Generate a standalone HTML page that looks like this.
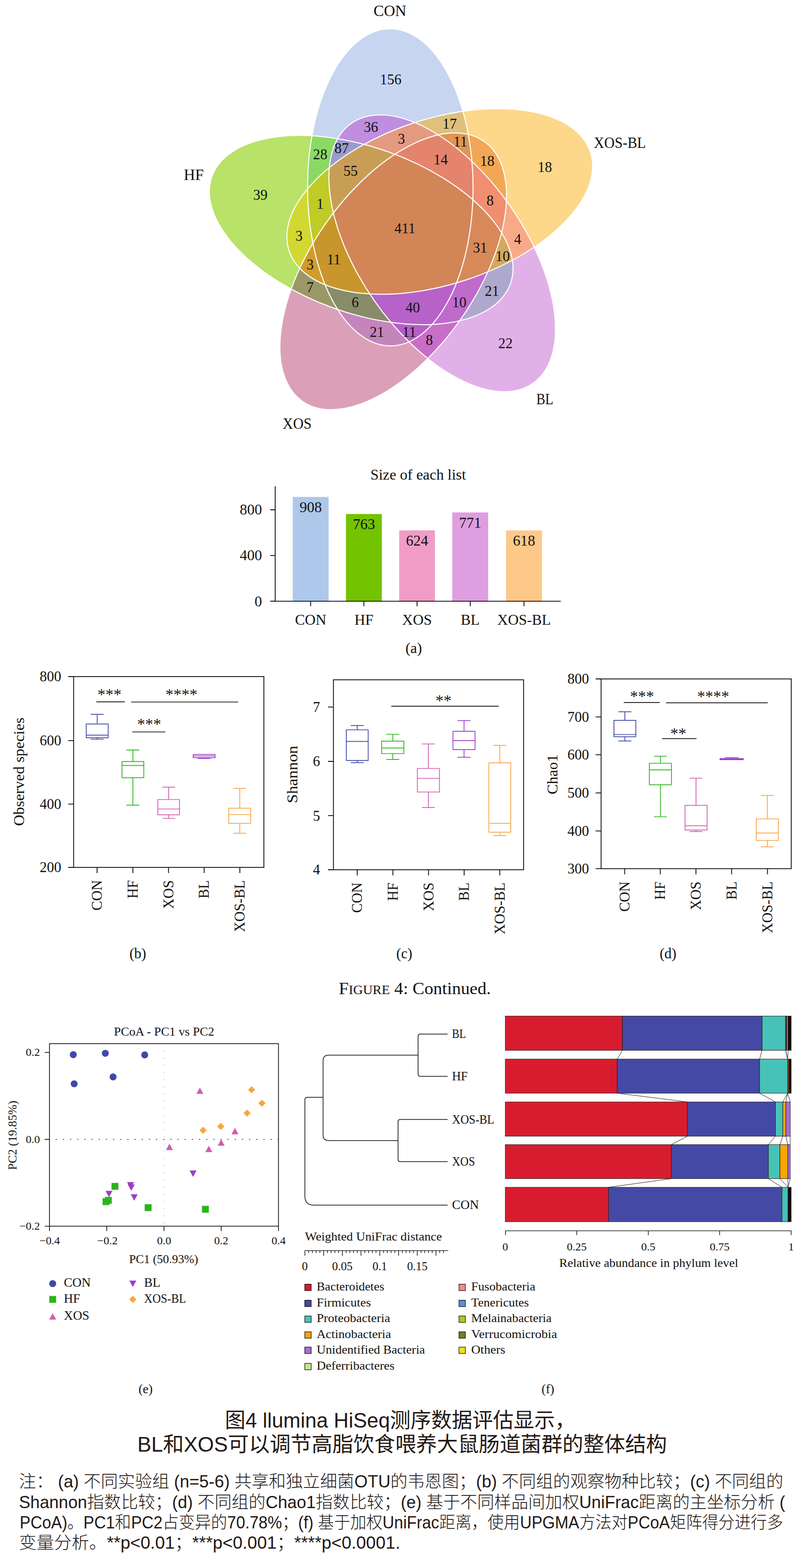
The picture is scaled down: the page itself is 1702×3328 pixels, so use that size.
<!DOCTYPE html>
<html><head><meta charset="utf-8"><title>Figure 4</title>
<style>html,body{margin:0;padding:0;background:#fff}svg{display:block}text{white-space:pre}</style></head>
<body><svg width="1702" height="3328" viewBox="0 0 1702 3328">
<rect width="1702" height="3328" fill="#fff"/>
<defs>
<clipPath id="cC"><ellipse cx="828.3" cy="397.6" rx="175.7" ry="336.5" transform="rotate(-0.10 828.3 397.6)" /></clipPath>
<clipPath id="cH"><ellipse cx="766.5" cy="488.3" rx="175.7" ry="336.5" transform="rotate(289.80 766.5 488.3)" /></clipPath>
<clipPath id="cX"><ellipse cx="834.5" cy="575.8" rx="175.7" ry="336.5" transform="rotate(214.90 834.5 575.8)" /></clipPath>
<clipPath id="cB"><ellipse cx="938.4" cy="537.6" rx="175.7" ry="336.5" transform="rotate(145.10 938.4 537.6)" /></clipPath>
<clipPath id="cO"><ellipse cx="933.2" cy="427.6" rx="175.7" ry="336.5" transform="rotate(71.90 933.2 427.6)" /></clipPath>
</defs>
<g shape-rendering="geometricPrecision">
<ellipse cx="828.3" cy="397.6" rx="175.7" ry="336.5" transform="rotate(-0.10 828.3 397.6)" fill="#c7d5f0"/>
<ellipse cx="766.5" cy="488.3" rx="175.7" ry="336.5" transform="rotate(289.80 766.5 488.3)" fill="#b8e268"/>
<ellipse cx="834.5" cy="575.8" rx="175.7" ry="336.5" transform="rotate(214.90 834.5 575.8)" fill="#dba0b8"/>
<ellipse cx="938.4" cy="537.6" rx="175.7" ry="336.5" transform="rotate(145.10 938.4 537.6)" fill="#e2b0e8"/>
<ellipse cx="933.2" cy="427.6" rx="175.7" ry="336.5" transform="rotate(71.90 933.2 427.6)" fill="#fdd78a"/>
<g clip-path="url(#cH)"><ellipse cx="828.3" cy="397.6" rx="175.7" ry="336.5" transform="rotate(-0.10 828.3 397.6)" fill="#8bd964"/></g>
<g clip-path="url(#cX)"><ellipse cx="828.3" cy="397.6" rx="175.7" ry="336.5" transform="rotate(-0.10 828.3 397.6)" fill="#c385bc"/></g>
<g clip-path="url(#cB)"><ellipse cx="828.3" cy="397.6" rx="175.7" ry="336.5" transform="rotate(-0.10 828.3 397.6)" fill="#bf8ede"/></g>
<g clip-path="url(#cO)"><ellipse cx="828.3" cy="397.6" rx="175.7" ry="336.5" transform="rotate(-0.10 828.3 397.6)" fill="#dfc07c"/></g>
<g clip-path="url(#cX)"><ellipse cx="766.5" cy="488.3" rx="175.7" ry="336.5" transform="rotate(289.80 766.5 488.3)" fill="#9b9868"/></g>
<g clip-path="url(#cB)"><ellipse cx="766.5" cy="488.3" rx="175.7" ry="336.5" transform="rotate(289.80 766.5 488.3)" fill="#aea8cc"/></g>
<g clip-path="url(#cO)"><ellipse cx="766.5" cy="488.3" rx="175.7" ry="336.5" transform="rotate(289.80 766.5 488.3)" fill="#d2d832"/></g>
<g clip-path="url(#cB)"><ellipse cx="834.5" cy="575.8" rx="175.7" ry="336.5" transform="rotate(214.90 834.5 575.8)" fill="#c86ec8"/></g>
<g clip-path="url(#cO)"><ellipse cx="834.5" cy="575.8" rx="175.7" ry="336.5" transform="rotate(214.90 834.5 575.8)" fill="#f2a757"/></g>
<g clip-path="url(#cO)"><ellipse cx="938.4" cy="537.6" rx="175.7" ry="336.5" transform="rotate(145.10 938.4 537.6)" fill="#f8aa88"/></g>
<g clip-path="url(#cX)"><g clip-path="url(#cH)"><ellipse cx="828.3" cy="397.6" rx="175.7" ry="336.5" transform="rotate(-0.10 828.3 397.6)" fill="#888c68"/></g></g>
<g clip-path="url(#cB)"><g clip-path="url(#cH)"><ellipse cx="828.3" cy="397.6" rx="175.7" ry="336.5" transform="rotate(-0.10 828.3 397.6)" fill="#9b9bcc"/></g></g>
<g clip-path="url(#cO)"><g clip-path="url(#cH)"><ellipse cx="828.3" cy="397.6" rx="175.7" ry="336.5" transform="rotate(-0.10 828.3 397.6)" fill="#bfcb26"/></g></g>
<g clip-path="url(#cB)"><g clip-path="url(#cX)"><ellipse cx="828.3" cy="397.6" rx="175.7" ry="336.5" transform="rotate(-0.10 828.3 397.6)" fill="#b45fc6"/></g></g>
<g clip-path="url(#cO)"><g clip-path="url(#cX)"><ellipse cx="828.3" cy="397.6" rx="175.7" ry="336.5" transform="rotate(-0.10 828.3 397.6)" fill="#de9654"/></g></g>
<g clip-path="url(#cO)"><g clip-path="url(#cB)"><ellipse cx="828.3" cy="397.6" rx="175.7" ry="336.5" transform="rotate(-0.10 828.3 397.6)" fill="#e39a80"/></g></g>
<g clip-path="url(#cB)"><g clip-path="url(#cX)"><ellipse cx="766.5" cy="488.3" rx="175.7" ry="336.5" transform="rotate(289.80 766.5 488.3)" fill="#c06acc"/></g></g>
<g clip-path="url(#cO)"><g clip-path="url(#cX)"><ellipse cx="766.5" cy="488.3" rx="175.7" ry="336.5" transform="rotate(289.80 766.5 488.3)" fill="#d19c2c"/></g></g>
<g clip-path="url(#cO)"><g clip-path="url(#cB)"><ellipse cx="766.5" cy="488.3" rx="175.7" ry="336.5" transform="rotate(289.80 766.5 488.3)" fill="#d4a85c"/></g></g>
<g clip-path="url(#cO)"><g clip-path="url(#cB)"><ellipse cx="834.5" cy="575.8" rx="175.7" ry="336.5" transform="rotate(214.90 834.5 575.8)" fill="#ef8f6f"/></g></g>
<g clip-path="url(#cB)"><g clip-path="url(#cX)"><g clip-path="url(#cH)"><ellipse cx="828.3" cy="397.6" rx="175.7" ry="336.5" transform="rotate(-0.10 828.3 397.6)" fill="#b662c8"/></g></g></g>
<g clip-path="url(#cO)"><g clip-path="url(#cX)"><g clip-path="url(#cH)"><ellipse cx="828.3" cy="397.6" rx="175.7" ry="336.5" transform="rotate(-0.10 828.3 397.6)" fill="#c8962a"/></g></g></g>
<g clip-path="url(#cO)"><g clip-path="url(#cB)"><g clip-path="url(#cH)"><ellipse cx="828.3" cy="397.6" rx="175.7" ry="336.5" transform="rotate(-0.10 828.3 397.6)" fill="#c89e57"/></g></g></g>
<g clip-path="url(#cO)"><g clip-path="url(#cB)"><g clip-path="url(#cX)"><ellipse cx="828.3" cy="397.6" rx="175.7" ry="336.5" transform="rotate(-0.10 828.3 397.6)" fill="#e5846c"/></g></g></g>
<g clip-path="url(#cO)"><g clip-path="url(#cB)"><g clip-path="url(#cX)"><ellipse cx="766.5" cy="488.3" rx="175.7" ry="336.5" transform="rotate(289.80 766.5 488.3)" fill="#d88959"/></g></g></g>
<g clip-path="url(#cO)"><g clip-path="url(#cB)"><g clip-path="url(#cX)"><g clip-path="url(#cH)"><ellipse cx="828.3" cy="397.6" rx="175.7" ry="336.5" transform="rotate(-0.10 828.3 397.6)" fill="#d28557"/></g></g></g></g>
<ellipse cx="828.3" cy="397.6" rx="175.7" ry="336.5" transform="rotate(-0.10 828.3 397.6)" fill="none" stroke="#fff" stroke-width="2.2"/>
<ellipse cx="766.5" cy="488.3" rx="175.7" ry="336.5" transform="rotate(289.80 766.5 488.3)" fill="none" stroke="#fff" stroke-width="2.2"/>
<ellipse cx="834.5" cy="575.8" rx="175.7" ry="336.5" transform="rotate(214.90 834.5 575.8)" fill="none" stroke="#fff" stroke-width="2.2"/>
<ellipse cx="938.4" cy="537.6" rx="175.7" ry="336.5" transform="rotate(145.10 938.4 537.6)" fill="none" stroke="#fff" stroke-width="2.2"/>
<ellipse cx="933.2" cy="427.6" rx="175.7" ry="336.5" transform="rotate(71.90 933.2 427.6)" fill="none" stroke="#fff" stroke-width="2.2"/>
</g>
<g style="font-family:'Liberation Serif',serif;font-size:30.5px" text-anchor="middle" fill="#111">
<text x="829.0" y="178.9">156</text>
<text x="787.2" y="279.8">36</text>
<text x="954.3" y="273.0">17</text>
<text x="851.8" y="304.9">3</text>
<text x="977.0" y="311.0">11</text>
<text x="679.4" y="338.3">28</text>
<text x="725.0" y="324.7">87</text>
<text x="744.0" y="373.3">55</text>
<text x="935.3" y="348.9">14</text>
<text x="1034.0" y="352.0">18</text>
<text x="1156.3" y="364.9">18</text>
<text x="552.6" y="424.1">39</text>
<text x="679.4" y="443.1">1</text>
<text x="1040.0" y="435.5">8</text>
<text x="859.4" y="494.7">411</text>
<text x="634.6" y="511.3">3</text>
<text x="1018.8" y="535.7">31</text>
<text x="1098.6" y="517.5">4</text>
<text x="1066.7" y="554.0">10</text>
<text x="658.2" y="572.2">3</text>
<text x="708.3" y="560.8">11</text>
<text x="658.2" y="620.0">7</text>
<text x="753.8" y="651.9">6</text>
<text x="876.0" y="662.5">40</text>
<text x="974.8" y="651.9">10</text>
<text x="1043.9" y="628.3">21</text>
<text x="800.0" y="714.9">21</text>
<text x="868.5" y="714.9">11</text>
<text x="911.0" y="731.6">8</text>
<text x="1072.7" y="739.3">22</text>
</g>
<g style="font-family:'Liberation Serif',serif;font-size:33px" text-anchor="middle" fill="#111">
<text x="827.5" y="33.8" textLength="69.5" lengthAdjust="spacingAndGlyphs">CON</text>
<text x="1315.5" y="314.2" textLength="110.5" lengthAdjust="spacingAndGlyphs">XOS-BL</text>
<text x="411.3" y="382.0" textLength="42.6" lengthAdjust="spacingAndGlyphs">HF</text>
<text x="1156.3" y="857.8" textLength="36.1" lengthAdjust="spacingAndGlyphs">BL</text>
<text x="630.6" y="909.8" textLength="61.5" lengthAdjust="spacingAndGlyphs">XOS</text>
</g>
<rect x="621.2" y="1054.7" width="76.2" height="221.5" fill="#adc8ea"/>
<rect x="734.2" y="1091" width="76.2" height="185.2" fill="#73c300"/>
<rect x="847.2" y="1125.7" width="75.8" height="150.5" fill="#f09cc6"/>
<rect x="959.7" y="1087.6" width="76.3" height="188.6" fill="#de9ee0"/>
<rect x="1074" y="1125.9" width="76.2" height="150.3" fill="#fec888"/>
<path d="M584 1032V1276.2M573.5 1276.2H1190" stroke="#111" stroke-width="1.8" fill="none"/>
<path d="M573.5 1276.2H584M573.5 1179.1H584M573.5 1082.0H584M659.3 1276.2v10.5M772.3 1276.2v10.5M885.1 1276.2v10.5M997.9 1276.2v10.5M1112.1 1276.2v10.5" stroke="#111" stroke-width="1.8" fill="none"/>
<g style="font-family:'Liberation Serif',serif;font-size:31.5px" fill="#111">
<text x="556" y="1286.5" text-anchor="end">0</text>
<text x="556" y="1189.4" text-anchor="end">400</text>
<text x="556" y="1092.3" text-anchor="end">800</text>
<text x="659.3" y="1086.9" text-anchor="middle">908</text>
<text x="772.3" y="1123.2" text-anchor="middle">763</text>
<text x="885.1" y="1157.9" text-anchor="middle">624</text>
<text x="997.9" y="1119.8" text-anchor="middle">771</text>
<text x="1112.1" y="1158.1" text-anchor="middle">618</text>
<text x="659.3" y="1326" text-anchor="middle">CON</text>
<text x="772.3" y="1326" text-anchor="middle">HF</text>
<text x="885.1" y="1326" text-anchor="middle">XOS</text>
<text x="997.9" y="1326" text-anchor="middle">BL</text>
<text x="1112.1" y="1326" text-anchor="middle">XOS-BL</text>
<text x="887.4" y="1018" text-anchor="middle" font-size="32" textLength="203" lengthAdjust="spacingAndGlyphs">Size of each list</text>
<text x="878" y="1386" text-anchor="middle">(a)</text>
</g>
<rect x="156.3" y="1436" width="403.7" height="405" fill="none" stroke="#111" stroke-width="1.8"/>
<path d="M144.8 1436H156.3M144.8 1571.8H156.3M144.8 1706.6H156.3M144.8 1841H156.3M206 1841v12M282 1841v12M357.6 1841v12M433.3 1841v12M509 1841v12" stroke="#111" stroke-width="1.8" fill="none"/>
<g style="font-family:'Liberation Serif',serif;font-size:30.5px" fill="#111">
<text x="130" y="1446.3" text-anchor="end">800</text>
<text x="130" y="1582.1" text-anchor="end">600</text>
<text x="130" y="1716.9" text-anchor="end">400</text>
<text x="130" y="1851.3" text-anchor="end">200</text>
<text transform="translate(216.1 1868) rotate(-90)" text-anchor="end">CON</text>
<text transform="translate(292.1 1868) rotate(-90)" text-anchor="end">HF</text>
<text transform="translate(367.7 1868) rotate(-90)" text-anchor="end">XOS</text>
<text transform="translate(443.4 1868) rotate(-90)" text-anchor="end">BL</text>
<text transform="translate(519.1 1868) rotate(-90)" text-anchor="end">XOS-BL</text>
<text transform="translate(51 1638) rotate(-90)" text-anchor="middle" textLength="230" lengthAdjust="spacingAndGlyphs">Observed species</text>
<text x="292.5" y="2034" text-anchor="middle">(b)</text>
<text x="232.3" y="1485" text-anchor="middle" style="font-size:34px">***</text>
<text x="385" y="1485" text-anchor="middle" style="font-size:34px">****</text>
<text x="316.6" y="1548" text-anchor="middle" style="font-size:34px">***</text>
</g>
<path d="M205 1489.7H264.2M278.8 1490H504.8M281.5 1553.5H350.3" stroke="#111" stroke-width="1.7" stroke-linecap="round" fill="none"/>
<path d="M183 1536.7H229.6V1565.8H183ZM183 1560.4H229.6M206.3 1536.7V1516.2M193.3 1516.2H219.3M206.3 1565.8V1569M193.3 1569H219.3" stroke="#3f4aa8" stroke-width="1.7" stroke-linecap="round" stroke-linejoin="round" fill="none"/>
<path d="M258.8 1616.4H305.2V1650.6H258.8ZM258.8 1624.6H305.2M282.0 1616.4V1591.8M269.0 1591.8H295.0M282.0 1650.6V1708.9M269.0 1708.9H295.0" stroke="#2db41c" stroke-width="1.7" stroke-linecap="round" stroke-linejoin="round" fill="none"/>
<path d="M334.9 1697H380.9V1729.4H334.9ZM334.9 1717H380.9M357.9 1697V1670.6M345.0 1670.6H370.8M357.9 1729.4V1737M345.0 1737H370.8" stroke="#d45cb0" stroke-width="1.7" stroke-linecap="round" stroke-linejoin="round" fill="none"/>
<path d="M410 1601.4H456.5V1608.2H410ZM410 1604.5H456.5M433.25 1608.2V1610M420.2 1610H446.3" stroke="#9b3ec3" stroke-width="1.7" stroke-linecap="round" stroke-linejoin="round" fill="none"/>
<path d="M485.6 1715.3H532V1747.6H485.6ZM485.6 1729H532M508.8 1715.3V1673.3M495.8 1673.3H521.8M508.8 1747.6V1768.6M495.8 1768.6H521.8" stroke="#fba443" stroke-width="1.7" stroke-linecap="round" stroke-linejoin="round" fill="none"/>
<rect x="707.6" y="1442.8" width="403.6" height="403.20000000000005" fill="none" stroke="#111" stroke-width="1.8"/>
<path d="M696.1 1500.7H707.6M696.1 1616H707.6M696.1 1731.2H707.6M696.1 1846H707.6M758.1 1846v12M833.8 1846v12M909.4 1846v12M985 1846v12M1060.6 1846v12" stroke="#111" stroke-width="1.8" fill="none"/>
<g style="font-family:'Liberation Serif',serif;font-size:30.5px" fill="#111">
<text x="679.3" y="1511.0" text-anchor="end">7</text>
<text x="679.3" y="1626.3" text-anchor="end">6</text>
<text x="679.3" y="1741.5" text-anchor="end">5</text>
<text x="679.3" y="1856.3" text-anchor="end">4</text>
<text transform="translate(768.2 1873) rotate(-90)" text-anchor="end">CON</text>
<text transform="translate(843.9 1873) rotate(-90)" text-anchor="end">HF</text>
<text transform="translate(919.5 1873) rotate(-90)" text-anchor="end">XOS</text>
<text transform="translate(995.1 1873) rotate(-90)" text-anchor="end">BL</text>
<text transform="translate(1070.7 1873) rotate(-90)" text-anchor="end">XOS-BL</text>
<text transform="translate(631 1643.7) rotate(-90)" text-anchor="middle" textLength="122" lengthAdjust="spacingAndGlyphs">Shannon</text>
<text x="858" y="2034" text-anchor="middle">(c)</text>
<text x="941.3" y="1498" text-anchor="middle" style="font-size:34px">**</text>
</g>
<path d="M831 1498.9H1057.4" stroke="#111" stroke-width="1.7" stroke-linecap="round" fill="none"/>
<path d="M734.9 1549H781.4V1614.1H734.9ZM734.9 1573.6H781.4M758.15 1549V1539.9M745.1 1539.9H771.2M758.15 1614.1V1618.7M745.1 1618.7H771.2" stroke="#3f4aa8" stroke-width="1.7" stroke-linecap="round" stroke-linejoin="round" fill="none"/>
<path d="M810 1573.1H857V1599.5H810ZM810 1587.7H857M833.5 1573.1V1558.5M820.3 1558.5H846.7M833.5 1599.5V1611.8M820.3 1611.8H846.7" stroke="#2db41c" stroke-width="1.7" stroke-linecap="round" stroke-linejoin="round" fill="none"/>
<path d="M885.7 1631H932.6V1681H885.7ZM885.7 1652H932.6M909.1500000000001 1631V1579M896.0 1579H922.3M909.1500000000001 1681V1713.9M896.0 1713.9H922.3" stroke="#d45cb0" stroke-width="1.7" stroke-linecap="round" stroke-linejoin="round" fill="none"/>
<path d="M961.3 1552.2H1008.2V1590.9H961.3ZM961.3 1571.8H1008.2M984.75 1552.2V1529.4M971.6 1529.4H997.9M984.75 1590.9V1607.3M971.6 1607.3H997.9" stroke="#9b3ec3" stroke-width="1.7" stroke-linecap="round" stroke-linejoin="round" fill="none"/>
<path d="M1037.4 1619.1H1083.9V1766.3H1037.4ZM1037.4 1747.6H1083.9M1060.65 1619.1V1582.2M1047.6 1582.2H1073.7M1060.65 1766.3V1773.6M1047.6 1773.6H1073.7" stroke="#fba443" stroke-width="1.7" stroke-linecap="round" stroke-linejoin="round" fill="none"/>
<rect x="1275.6" y="1441" width="403.60000000000014" height="402.70000000000005" fill="none" stroke="#111" stroke-width="1.8"/>
<path d="M1264.1 1441H1275.6M1264.1 1521.6H1275.6M1264.1 1601.8H1275.6M1264.1 1682.9H1275.6M1264.1 1763.6H1275.6M1264.1 1843.7H1275.6M1325.7 1843.7v12M1401.3 1843.7v12M1476.9 1843.7v12M1552.6 1843.7v12M1628.7 1843.7v12" stroke="#111" stroke-width="1.8" fill="none"/>
<g style="font-family:'Liberation Serif',serif;font-size:30.5px" fill="#111">
<text x="1250" y="1451.3" text-anchor="end">800</text>
<text x="1250" y="1531.9" text-anchor="end">700</text>
<text x="1250" y="1612.1" text-anchor="end">600</text>
<text x="1250" y="1693.2" text-anchor="end">500</text>
<text x="1250" y="1773.9" text-anchor="end">400</text>
<text x="1250" y="1854.0" text-anchor="end">300</text>
<text transform="translate(1335.8 1870.7) rotate(-90)" text-anchor="end">CON</text>
<text transform="translate(1411.4 1870.7) rotate(-90)" text-anchor="end">HF</text>
<text transform="translate(1487.0 1870.7) rotate(-90)" text-anchor="end">XOS</text>
<text transform="translate(1562.7 1870.7) rotate(-90)" text-anchor="end">BL</text>
<text transform="translate(1638.8 1870.7) rotate(-90)" text-anchor="end">XOS-BL</text>
<text transform="translate(1182.6 1643.7) rotate(-90)" text-anchor="middle" textLength="84.7" lengthAdjust="spacingAndGlyphs">Chao1</text>
<text x="1417.7" y="2034" text-anchor="middle">(d)</text>
<text x="1362.6" y="1489" text-anchor="middle" style="font-size:34px">***</text>
<text x="1513.4" y="1489" text-anchor="middle" style="font-size:34px">****</text>
<text x="1439.6" y="1568" text-anchor="middle" style="font-size:34px">**</text>
</g>
<path d="M1324.3 1491.1H1399.5M1414.1 1491.6H1628.7M1405.9 1567.7H1477.4" stroke="#111" stroke-width="1.7" stroke-linecap="round" fill="none"/>
<path d="M1302.9 1528.9H1349.4V1563.6H1302.9ZM1302.9 1559H1349.4M1326.15 1528.9V1510.7M1313.1 1510.7H1339.2M1326.15 1563.6V1572.7M1313.1 1572.7H1339.2" stroke="#3f4aa8" stroke-width="1.7" stroke-linecap="round" stroke-linejoin="round" fill="none"/>
<path d="M1378.1 1620H1425V1665.6H1378.1ZM1378.1 1634.2H1425M1401.55 1620V1605M1388.4 1605H1414.7M1401.55 1665.6V1733.5M1388.4 1733.5H1414.7" stroke="#2db41c" stroke-width="1.7" stroke-linecap="round" stroke-linejoin="round" fill="none"/>
<path d="M1453.7 1709.3H1500.6V1761.7H1453.7ZM1453.7 1752.6H1500.6M1477.15 1709.3V1651.5M1464.0 1651.5H1490.3M1477.15 1761.7V1764.9M1464.0 1764.9H1490.3" stroke="#d45cb0" stroke-width="1.7" stroke-linecap="round" stroke-linejoin="round" fill="none"/>
<path d="M1528 1610H1577.6V1612.3H1528ZM1528 1611.2H1577.6M1552.8 1610V1608M1538.9 1608H1566.7" stroke="#9b3ec3" stroke-width="1.7" stroke-linecap="round" stroke-linejoin="round" fill="none"/>
<path d="M1605 1738H1651.9V1784H1605ZM1605 1768.1H1651.9M1628.45 1738V1688.4M1615.3 1688.4H1641.6M1628.45 1784V1797.3M1615.3 1797.3H1641.6" stroke="#fba443" stroke-width="1.7" stroke-linecap="round" stroke-linejoin="round" fill="none"/>
<text x="719" y="2110.2" fill="#111" style="font-family:'Liberation Serif',serif" font-size="35.5" textLength="322.8" lengthAdjust="spacingAndGlyphs"><tspan>F</tspan><tspan font-size="27">IGURE</tspan> 4: Continued.</text>
<path d="M118.1 2418.3H591" stroke="#111" stroke-width="1.2" stroke-dasharray="2.7 12.5" fill="none"/>
<path d="M348.3 2229.7V2602.5" stroke="#999" stroke-width="1" stroke-dasharray="2 13.2" fill="none"/>
<rect x="105" y="2215.2" width="486" height="387.3000000000002" fill="none" stroke="#111" stroke-width="1.6"/>
<path d="M94.8 2233.7H105M94.8 2418.4H105M94.8 2602.5H105M105 2602.5v10.2M226.5 2602.5v10.2M348 2602.5v10.2M469.4 2602.5v10.2M591 2602.5v10.2" stroke="#111" stroke-width="1.6" fill="none"/>
<g style="font-family:'Liberation Serif',serif" font-size="23" fill="#111">
<text text-anchor="end" textLength="30" lengthAdjust="spacingAndGlyphs" x="84.8" y="2241.3">0.2</text>
<text text-anchor="end" textLength="30" lengthAdjust="spacingAndGlyphs" x="84.8" y="2426.0">0.0</text>
<text text-anchor="end" textLength="43.5" lengthAdjust="spacingAndGlyphs" x="84.8" y="2610.1">−0.2</text>
<text text-anchor="middle" textLength="43.5" lengthAdjust="spacingAndGlyphs" x="105.6" y="2641">−0.4</text>
<text text-anchor="middle" textLength="43.5" lengthAdjust="spacingAndGlyphs" x="228" y="2641">−0.2</text>
<text text-anchor="middle" textLength="30" lengthAdjust="spacingAndGlyphs" x="348.2" y="2641">0.0</text>
<text text-anchor="middle" textLength="30" lengthAdjust="spacingAndGlyphs" x="469.6" y="2641">0.2</text>
<text text-anchor="middle" textLength="30" lengthAdjust="spacingAndGlyphs" x="591.2" y="2641">0.4</text>
<text text-anchor="middle" font-size="24.8" textLength="213" lengthAdjust="spacingAndGlyphs" x="348.3" y="2197.5">PCoA - PC1 vs PC2</text>
<text text-anchor="middle" font-size="24.8" textLength="146.7" lengthAdjust="spacingAndGlyphs" x="347.3" y="2680.5">PC1 (50.93%)</text>
<text text-anchor="middle" font-size="24.8" textLength="147.2" lengthAdjust="spacingAndGlyphs" transform="translate(35 2409.6) rotate(-90)">PC2 (19.85%)</text>
</g>
<circle cx="155.5" cy="2238.5" r="7.4" fill="#3f4aa8"/>
<circle cx="223.5" cy="2235.6" r="7.4" fill="#3f4aa8"/>
<circle cx="307.1" cy="2239" r="7.4" fill="#3f4aa8"/>
<circle cx="240" cy="2285.7" r="7.4" fill="#3f4aa8"/>
<circle cx="157.4" cy="2300.3" r="7.4" fill="#3f4aa8"/>
<path d="M402.3 2484.3h14.8l-7.4 13.6z" fill="#9b3ec3"/>
<path d="M269.6 2509.1h14.8l-7.4 13.6z" fill="#9b3ec3"/>
<path d="M271.1 2513.9h14.8l-7.4 13.6z" fill="#9b3ec3"/>
<path d="M223.9 2527.5h14.8l-7.4 13.6z" fill="#9b3ec3"/>
<path d="M277.4 2534.8h14.8l-7.4 13.6z" fill="#9b3ec3"/>
<rect x="236.7" y="2510.7" width="14.6" height="14.6" fill="#2db41c"/>
<rect x="222.6" y="2540.3" width="14.6" height="14.6" fill="#2db41c"/>
<rect x="217.7" y="2543.2" width="14.6" height="14.6" fill="#2db41c"/>
<rect x="307.1" y="2555.9" width="14.6" height="14.6" fill="#2db41c"/>
<rect x="428.6" y="2559.3" width="14.6" height="14.6" fill="#2db41c"/>
<path d="M416.8 2321.8h14.8l-7.4 -13.6z" fill="#d45cb0"/>
<path d="M352.2 2440.9h14.8l-7.4 -13.6z" fill="#d45cb0"/>
<path d="M435.8 2445.3h14.8l-7.4 -13.6z" fill="#d45cb0"/>
<path d="M462.0 2431.7h14.8l-7.4 -13.6z" fill="#d45cb0"/>
<path d="M491.2 2407.4h14.8l-7.4 -13.6z" fill="#d45cb0"/>
<path d="M526.4 2312.9l7.6 -7.6l7.6 7.6l-7.6 7.6z" fill="#fba443"/>
<path d="M548.3 2341.6l7.6 -7.6l7.6 7.6l-7.6 7.6z" fill="#fba443"/>
<path d="M516.7 2362.5l7.6 -7.6l7.6 7.6l-7.6 7.6z" fill="#fba443"/>
<path d="M460.9 2390.7l7.6 -7.6l7.6 7.6l-7.6 7.6z" fill="#fba443"/>
<path d="M423.4 2398.9l7.6 -7.6l7.6 7.6l-7.6 7.6z" fill="#fba443"/>
<circle cx="111.8" cy="2724.4" r="7.4" fill="#3f4aa8"/>
<text x="135.6" y="2731.4" fill="#111" style="font-family:'Liberation Serif',serif" font-size="27">CON</text>
<rect x="104.5" y="2750.6" width="14.6" height="14.6" fill="#2db41c"/>
<text x="135.6" y="2764.9" fill="#111" style="font-family:'Liberation Serif',serif" font-size="27">HF</text>
<path d="M104.4 2800.8h14.8l-7.4 -13.6z" fill="#d45cb0"/>
<text x="135.6" y="2801.3" fill="#111" style="font-family:'Liberation Serif',serif" font-size="27">XOS</text>
<path d="M274.5 2717.9h14.8l-7.4 13.6z" fill="#9b3ec3"/>
<text x="305.7" y="2731.4" fill="#111" style="font-family:'Liberation Serif',serif" font-size="27">BL</text>
<path d="M274.3 2757.9l7.6 -7.6l7.6 7.6l-7.6 7.6z" fill="#fba443"/>
<text x="305.7" y="2764.9" fill="#111" style="font-family:'Liberation Serif',serif" font-size="27" textLength="89" lengthAdjust="spacingAndGlyphs">XOS-BL</text>
<text x="309" y="2957" text-anchor="middle" fill="#111" style="font-family:'Liberation Serif',serif" font-size="27">(e)</text>
<path d="M950 2194.8H892.3Q887.3 2194.8 887.3 2199.8V2279.6Q887.3 2284.6 892.3 2284.6H950M950 2376H849.7Q844.7 2376 844.7 2381V2460.4Q844.7 2465.4 849.7 2465.4H950M887.3 2239.5H697.6Q685.6 2239.5 685.6 2251.5V2408.7Q685.6 2420.7 697.6 2420.7H844.7M685.6 2328.9H652Q647 2328.9 647 2333.9V2538.7Q647 2557.7 666 2557.7H950" stroke="#111" stroke-width="1.5" fill="none"/>
<g style="font-family:'Liberation Serif',serif" font-size="26.5" fill="#111">
<text textLength="29.6" lengthAdjust="spacingAndGlyphs" x="959.2" y="2203.4">BL</text>
<text textLength="33.4" lengthAdjust="spacingAndGlyphs" x="959.2" y="2293.2">HF</text>
<text textLength="89.8" lengthAdjust="spacingAndGlyphs" x="959.2" y="2384.6">XOS-BL</text>
<text textLength="48.8" lengthAdjust="spacingAndGlyphs" x="959.2" y="2474.0">XOS</text>
<text textLength="57" lengthAdjust="spacingAndGlyphs" x="959.2" y="2566.3">CON</text>
<text font-size="24.8" textLength="290.8" lengthAdjust="spacingAndGlyphs" x="647" y="2632.5">Weighted UniFrac distance</text>
<text text-anchor="middle" font-size="24.8" x="647.0" y="2696">0</text>
<text text-anchor="middle" font-size="24.8" x="726.5" y="2696">0.05</text>
<text text-anchor="middle" font-size="24.8" x="806.0" y="2696">0.1</text>
<text text-anchor="middle" font-size="24.8" x="885.6" y="2696">0.15</text>
</g>
<path d="M647 2654.4H951.3M647.0 2654.4v10.5M655.0 2654.4v5M662.9 2654.4v5M670.9 2654.4v5M678.8 2654.4v5M686.8 2654.4v10.5M694.7 2654.4v5M702.6 2654.4v5M710.6 2654.4v5M718.5 2654.4v5M726.5 2654.4v10.5M734.5 2654.4v5M742.4 2654.4v5M750.4 2654.4v5M758.3 2654.4v5M766.2 2654.4v10.5M774.2 2654.4v5M782.1 2654.4v5M790.1 2654.4v5M798.0 2654.4v5M806.0 2654.4v10.5M814.0 2654.4v5M821.9 2654.4v5M829.9 2654.4v5M837.8 2654.4v5M845.8 2654.4v10.5M853.7 2654.4v5M861.6 2654.4v5M869.6 2654.4v5M877.5 2654.4v5M885.5 2654.4v10.5M893.5 2654.4v5M901.4 2654.4v5M909.4 2654.4v5M917.3 2654.4v5M925.2 2654.4v10.5M933.2 2654.4v5M941.2 2654.4v5" stroke="#111" stroke-width="1.4" fill="none"/>
<path d="M1321.0 2229.2L1309.8 2247.9M1617.3 2229.2L1612.0 2247.9M1667.2 2229.2L1671.6 2247.9M1667.2 2229.2L1671.6 2247.9M1672.6 2229.2L1671.6 2247.9M1309.8 2320.2L1458.8 2338.9M1612.0 2320.2L1645.6 2338.9M1671.6 2320.2L1661.3 2338.9M1671.6 2320.2L1667.8 2338.9M1671.6 2320.2L1677.0 2338.9M1458.8 2411.5L1424.7 2429.4M1645.6 2411.5L1630.7 2429.4M1661.3 2411.5L1655.2 2429.4M1667.8 2411.5L1671.9 2429.4M1677.0 2411.5L1677.0 2429.4M1424.7 2501.6L1291.3 2520.0M1630.7 2501.6L1659.7 2520.0M1655.2 2501.6L1672.3 2520.0M1671.9 2501.6L1672.3 2520.0M1677.0 2501.6L1672.3 2520.0" stroke="#222" stroke-width="1" fill="none"/>
<rect x="1072.3" y="2156.6" width="248.7" height="72.6" fill="#d81c30" stroke="#2a1a1a" stroke-width="1"/>
<rect x="1321.0" y="2156.6" width="296.3" height="72.6" fill="#4549a6" stroke="#2a1a1a" stroke-width="1"/>
<rect x="1617.3" y="2156.6" width="49.9" height="72.6" fill="#47c2b8" stroke="#2a1a1a" stroke-width="1"/>
<rect x="1667.2" y="2156.6" width="2.4" height="72.6" fill="#5a3a20" stroke="#2a1a1a" stroke-width="1"/>
<rect x="1669.6" y="2156.6" width="3.0" height="72.6" fill="#a86ed4" stroke="#2a1a1a" stroke-width="1"/>
<rect x="1672.6" y="2156.6" width="6.4" height="72.6" fill="#0f0d0b" stroke="#2a1a1a" stroke-width="1"/>
<rect x="1072.3" y="2247.9" width="237.5" height="72.3" fill="#d81c30" stroke="#2a1a1a" stroke-width="1"/>
<rect x="1309.8" y="2247.9" width="302.2" height="72.3" fill="#4549a6" stroke="#2a1a1a" stroke-width="1"/>
<rect x="1612.0" y="2247.9" width="59.6" height="72.3" fill="#47c2b8" stroke="#2a1a1a" stroke-width="1"/>
<rect x="1671.6" y="2247.9" width="3.2" height="72.3" fill="#7a4a20" stroke="#2a1a1a" stroke-width="1"/>
<rect x="1674.8" y="2247.9" width="4.2" height="72.3" fill="#0f0d0b" stroke="#2a1a1a" stroke-width="1"/>
<rect x="1072.3" y="2338.9" width="386.5" height="72.6" fill="#d81c30" stroke="#2a1a1a" stroke-width="1"/>
<rect x="1458.8" y="2338.9" width="186.8" height="72.6" fill="#4549a6" stroke="#2a1a1a" stroke-width="1"/>
<rect x="1645.6" y="2338.9" width="15.7" height="72.6" fill="#47c2b8" stroke="#2a1a1a" stroke-width="1"/>
<rect x="1661.3" y="2338.9" width="6.5" height="72.6" fill="#f7a600" stroke="#2a1a1a" stroke-width="1"/>
<rect x="1667.8" y="2338.9" width="9.2" height="72.6" fill="#a86ed4" stroke="#2a1a1a" stroke-width="1"/>
<rect x="1072.3" y="2429.4" width="352.4" height="72.2" fill="#d81c30" stroke="#2a1a1a" stroke-width="1"/>
<rect x="1424.7" y="2429.4" width="206.0" height="72.2" fill="#4549a6" stroke="#2a1a1a" stroke-width="1"/>
<rect x="1630.7" y="2429.4" width="24.5" height="72.2" fill="#47c2b8" stroke="#2a1a1a" stroke-width="1"/>
<rect x="1655.2" y="2429.4" width="16.7" height="72.2" fill="#f7a600" stroke="#2a1a1a" stroke-width="1"/>
<rect x="1671.9" y="2429.4" width="5.1" height="72.2" fill="#a86ed4" stroke="#2a1a1a" stroke-width="1"/>
<rect x="1072.3" y="2520.0" width="219.0" height="73.0" fill="#d81c30" stroke="#2a1a1a" stroke-width="1"/>
<rect x="1291.3" y="2520.0" width="368.4" height="73.0" fill="#4549a6" stroke="#2a1a1a" stroke-width="1"/>
<rect x="1659.7" y="2520.0" width="12.6" height="73.0" fill="#47c2b8" stroke="#2a1a1a" stroke-width="1"/>
<rect x="1672.3" y="2520.0" width="6.7" height="73.0" fill="#0f0d0b" stroke="#2a1a1a" stroke-width="1"/>
<path d="M1072.8 2621.6V2612.4H1679.0V2621.6M1224.0 2612.4V2621.6M1375.7 2612.4V2621.6M1527.3 2612.4V2621.6" stroke="#111" stroke-width="1.4" fill="none"/>
<g style="font-family:'Liberation Serif',serif" fill="#111" font-size="24">
<text text-anchor="middle" x="1072.3" y="2653.6">0</text>
<text text-anchor="middle" x="1224.0" y="2653.6">0.25</text>
<text text-anchor="middle" x="1375.7" y="2653.6">0.5</text>
<text text-anchor="middle" x="1527.3" y="2653.6">0.75</text>
<text text-anchor="middle" x="1679.0" y="2653.6">1</text>
<text text-anchor="middle" font-size="26" textLength="379.7" lengthAdjust="spacingAndGlyphs" x="1376.7" y="2689">Relative abundance in phylum level</text>
</g>
<g style="font-family:'Liberation Serif',serif" fill="#111" font-size="25.7">
<rect x="646.8" y="2725.6" width="13.6" height="13.6" fill="#d7192d" stroke="#111" stroke-width="1.2"/>
<text textLength="143.4" lengthAdjust="spacingAndGlyphs" x="672" y="2738.9">Bacteroidetes</text>
<rect x="646.8" y="2759.6" width="13.6" height="13.6" fill="#4549a6" stroke="#111" stroke-width="1.2"/>
<text textLength="115.2" lengthAdjust="spacingAndGlyphs" x="672" y="2772.9">Firmicutes</text>
<rect x="646.8" y="2793.1" width="13.6" height="13.6" fill="#47c2b8" stroke="#111" stroke-width="1.2"/>
<text textLength="156" lengthAdjust="spacingAndGlyphs" x="672" y="2806.4">Proteobacteria</text>
<rect x="646.8" y="2826.7" width="13.6" height="13.6" fill="#f7a600" stroke="#111" stroke-width="1.2"/>
<text textLength="157.9" lengthAdjust="spacingAndGlyphs" x="672" y="2840.0">Actinobacteria</text>
<rect x="646.8" y="2859.2" width="13.6" height="13.6" fill="#a86ed4" stroke="#111" stroke-width="1.2"/>
<text textLength="229.9" lengthAdjust="spacingAndGlyphs" x="672" y="2872.5">Unidentified Bacteria</text>
<rect x="646.8" y="2893.7" width="13.6" height="13.6" fill="#c1e68a" stroke="#111" stroke-width="1.2"/>
<text textLength="165.2" lengthAdjust="spacingAndGlyphs" x="672" y="2907.0">Deferribacteres</text>
<rect x="974" y="2725.6" width="13.6" height="13.6" fill="#f88a8a" stroke="#111" stroke-width="1.2"/>
<text textLength="136" lengthAdjust="spacingAndGlyphs" x="1000" y="2738.9">Fusobacteria</text>
<rect x="974" y="2759.6" width="13.6" height="13.6" fill="#5b8fd0" stroke="#111" stroke-width="1.2"/>
<text textLength="122.5" lengthAdjust="spacingAndGlyphs" x="1000" y="2772.9">Tenericutes</text>
<rect x="974" y="2793.1" width="13.6" height="13.6" fill="#a3d018" stroke="#111" stroke-width="1.2"/>
<text textLength="170.6" lengthAdjust="spacingAndGlyphs" x="1000" y="2806.4">Melainabacteria</text>
<rect x="974" y="2826.7" width="13.6" height="13.6" fill="#7a7a28" stroke="#111" stroke-width="1.2"/>
<text textLength="182.2" lengthAdjust="spacingAndGlyphs" x="1000" y="2840.0">Verrucomicrobia</text>
<rect x="974" y="2859.2" width="13.6" height="13.6" fill="#f5dc14" stroke="#111" stroke-width="1.2"/>
<text textLength="72.4" lengthAdjust="spacingAndGlyphs" x="1000" y="2872.5">Others</text>
<text text-anchor="middle" font-size="27" x="1162.8" y="2957">(f)</text>
</g>
<g fill="#231815" style="font-family:'Liberation Sans','Noto Sans CJK SC',sans-serif">
<text x="477.3" y="3029.7" font-size="44" textLength="744" lengthAdjust="spacingAndGlyphs">图4 llumina HiSeq测序数据评估显示，</text>
<text x="291.4" y="3080.7" font-size="44" textLength="1124" lengthAdjust="spacingAndGlyphs">BL和XOS可以调节高脂饮食喂养大鼠肠道菌群的整体结构</text>
<text x="40.3" y="3157.4" font-size="36" font-weight="300" textLength="1622" lengthAdjust="spacingAndGlyphs">注： (a) 不同实验组 (n=5-6) 共享和独立细菌OTU的韦恩图；(b) 不同组的观察物种比较；(c) 不同组的</text>
<text x="40.3" y="3200.8" font-size="36" font-weight="300" textLength="1626" lengthAdjust="spacingAndGlyphs">Shannon指数比较；(d) 不同组的Chao1指数比较；(e) 基于不同样品间加权UniFrac距离的主坐标分析 (</text>
<text x="41.8" y="3243.9" font-size="36" font-weight="300" textLength="1620" lengthAdjust="spacingAndGlyphs">PCoA)。PC1和PC2占变异的70.78%；(f) 基于加权UniFrac距离，使用UPGMA方法对PCoA矩阵得分进行多</text>
<text x="40.3" y="3287" font-size="36" font-weight="300" textLength="809" lengthAdjust="spacingAndGlyphs">变量分析。**p&lt;0.01；***p&lt;0.001；****p&lt;0.0001.</text>
</g>
</svg></body></html>
